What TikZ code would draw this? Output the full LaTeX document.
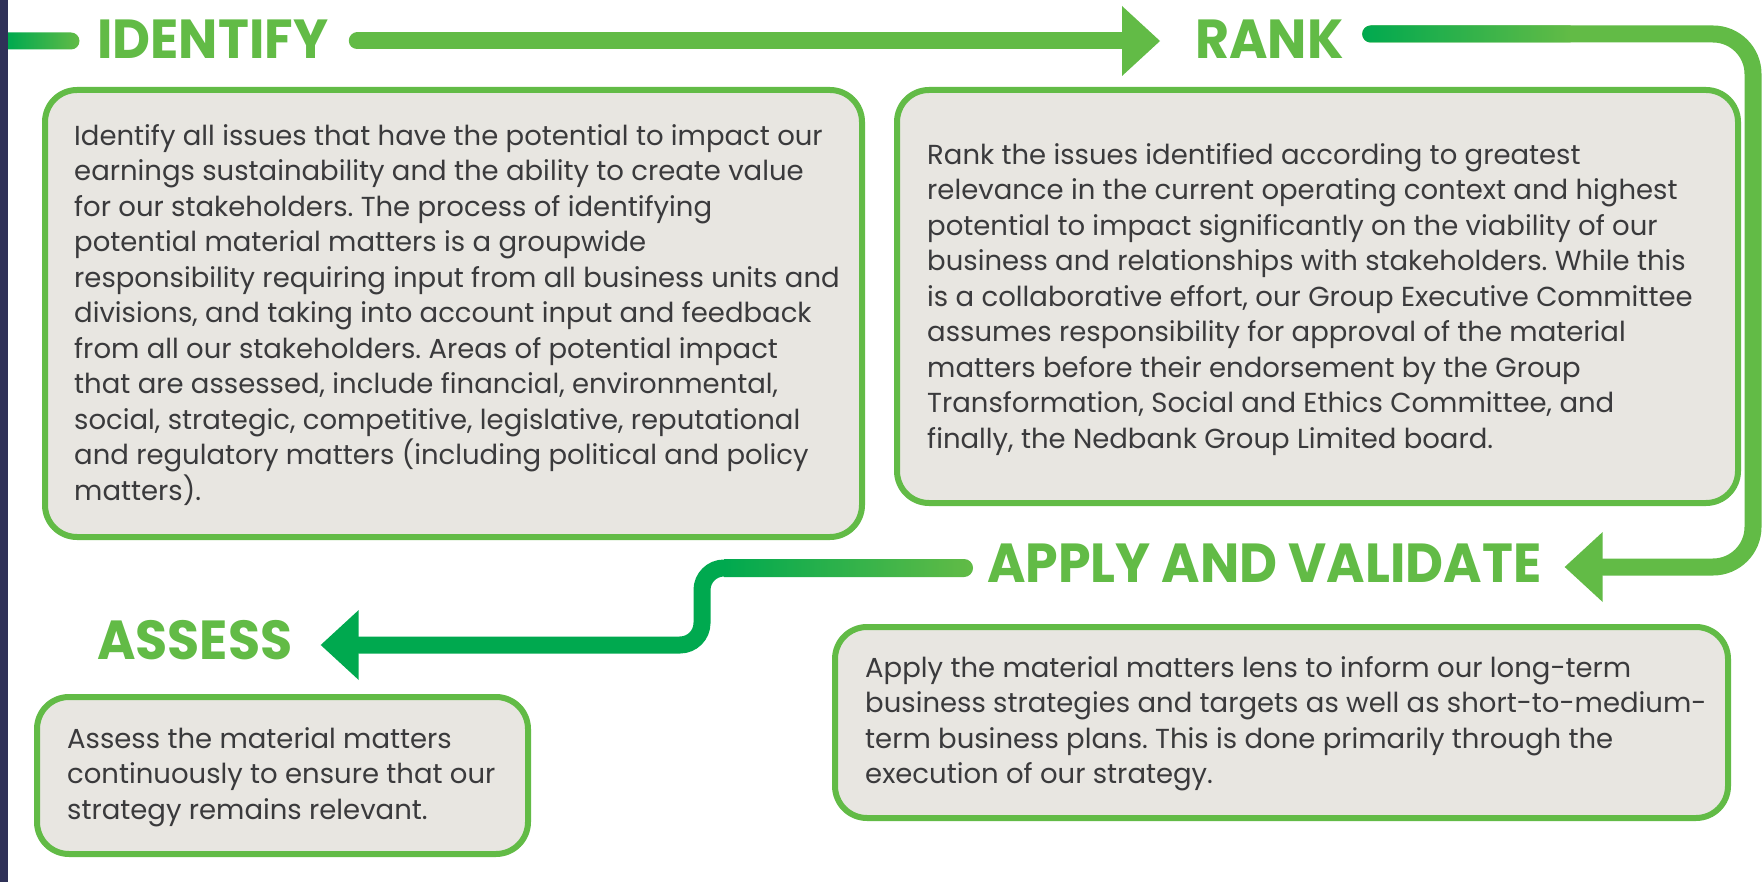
\documentclass[tikz,border=0pt]{standalone}
\usepackage{fontspec}
\setmainfont{Poppins}
\newfontfamily\bodyfont{Poppins}
\newfontfamily\headfont[FakeStretch=0.95]{Poppins}
\usetikzlibrary{arrows.meta,calc}
\frenchspacing

\definecolor{lgreen}{HTML}{62BB46}
\definecolor{dgreen}{HTML}{00A94F}
\definecolor{boxfill}{HTML}{E8E6E1}
\definecolor{bodytext}{HTML}{3A3A3C}
\definecolor{navy}{HTML}{2F3158}

\tikzset{
  panel/.style={draw=lgreen, line width=6pt, fill=boxfill, rounded corners=32pt,
    inner sep=0pt, anchor=north west},
  heading/.style={text=lgreen, inner sep=0pt, anchor=west,
    font=\headfont\bfseries\fontsize{55}{55}\selectfont},
  body/.style={text=bodytext, align=left, anchor=north west, inner sep=0pt,
    font=\bodyfont\fontsize{27.5}{35.5}\selectfont},
  flow/.style={line width=17pt, line cap=round},
  bighead/.style={-{Triangle[length=38pt,width=70pt,line width=0pt]}}
}

\begin{document}
\begin{tikzpicture}[x=1pt,y=-1pt]
\useasboundingbox (0,0) rectangle (1762,882);
\fill[white] (0,0) rectangle (1762,882);
\fill[navy] (0,0) rectangle (8,882);

% step titles
\node[heading] (identify) at (97,39) {IDENTIFY};
\node[heading] (rank) at (1195,39) {RANK};
\node[heading] (apply) at (987,563) {APPLY AND VALIDATE};
\node[heading] (assess) at (97,640) {ASSESS};

% panels
\node[panel, minimum width=817pt, minimum height=447pt] (identifybox) at (42,87) {};
\node[panel, minimum width=841pt, minimum height=413pt] (rankbox) at (894,87) {};
\node[panel, minimum width=893pt, minimum height=191pt] (applybox) at (832,624) {};
\node[panel, minimum width=491pt, minimum height=157pt] (assessbox) at (34,694) {};

% panel texts
\node[body] (identifytext) at (74,124) {Identify all issues that have the potential to impact our\\
earnings sustainability and the ability to create value\\
for our stakeholders. The process of identifying\\
potential material matters is a groupwide\\
responsibility requiring input from all business units and\\
divisions, and taking into account input and feedback\\
from all our stakeholders. Areas of potential impact\\
that are assessed, include financial, environmental,\\
social, strategic, competitive, legislative, reputational\\
and regulatory matters (including political and policy\\
matters).};

\node[body] (ranktext) at (927,143) {Rank the issues identified according to greatest\\
relevance in the current operating context and highest\\
potential to impact significantly on the viability of our\\
business and relationships with stakeholders. While this\\
is a collaborative effort, our Group Executive Committee\\
assumes responsibility for approval of the material\\
matters before their endorsement by the Group\\
Transformation, Social and Ethics Committee, and\\
finally, the Nedbank Group Limited board.};

\node[body] (applytext) at (865,656) {Apply the material matters lens to inform our long-term\\
business strategies and targets as well as short-to-medium-\\
term business plans. This is done primarily through the\\
execution of our strategy.};

\node[body] (assesstext) at (67,727) {Assess the material matters\\
continuously to ensure that our\\
strategy remains relevant.};

% lead-in stub, shaded dark to light
\coordinate (stubA) at (8,41);
\path (identify.west) ++(-26,2) coordinate (stubB);
\shade[left color=dgreen, right color=lgreen]
  ($(stubA)+(0,-8.5)$) -- ($(stubB)+(0,-8.5)$)
  arc[start angle=90, end angle=-90, radius=8.5pt] -- ($(stubA)+(0,8.5)$) -- cycle;

% identify -> rank
\path (identify.east) ++(29,2) coordinate (topA);
\path (rank.west) ++(-35,2) coordinate (topB);
\draw[flow, draw=lgreen, bighead, lgreen] (topA) -- (topB);

% rank -> apply, round the right edge
\path (rank.east) ++(27,-5) coordinate (rankA);
\path (apply.east) ++(23,4) coordinate (rankB);
\coordinate (rankC) at (1753,34);
\draw[flow, draw=lgreen, bighead, lgreen, rounded corners=40pt]
  (rankA) -- (rankC) -- (rankC |- rankB) -- (rankB);
\shade[left color=dgreen, right color=lgreen]
  ($(rankA)+(0,-8.5)$) arc[start angle=90, end angle=270, radius=8.5pt]
  -- ($(rankA)+(200,8.5)$) -- ($(rankA)+(200,-8.5)$) -- cycle;

% apply -> assess, stepping down
\path (apply.west) ++(-23,5) coordinate (applyA);
\path (assess.east) ++(28,5) coordinate (applyB);
\coordinate (applyC) at (702,568);
\draw[flow, draw=dgreen, bighead, dgreen, rounded corners=22pt]
  (applyA) -- (applyC) -- (applyC |- applyB) -- (applyB);
\shade[left color=dgreen, right color=lgreen]
  ($(applyA)+(-240,-9)$) -- ($(applyA)+(0,-9)$)
  arc[start angle=90, end angle=-90, radius=9pt] -- ($(applyA)+(-240,9)$) -- cycle;
\end{tikzpicture}
\end{document}
